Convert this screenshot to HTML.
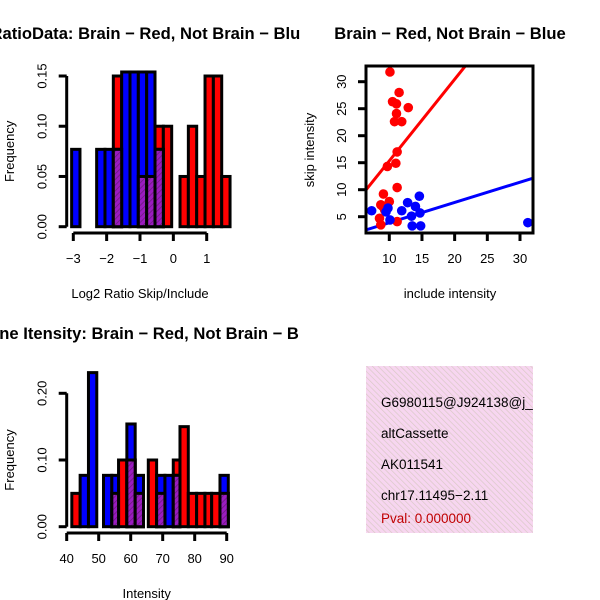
<!DOCTYPE html>
<html><head><meta charset="utf-8"><style>
body{margin:0;background:#fff}
svg{display:block;font-family:"Liberation Sans",sans-serif}
</style></head><body>
<svg id="fig" width="600" height="600" viewBox="0 0 600 600" xmlns="http://www.w3.org/2000/svg">
<defs>
<pattern id="hatch" width="4" height="4" patternUnits="userSpaceOnUse" patternTransform="rotate(45)">
<rect width="4" height="4" fill="#9a1cc0"/><line x1="0" y1="0" x2="0" y2="4" stroke="#6a1a7a" stroke-width="1.5"/></pattern>
<pattern id="pinkhatch" width="4" height="4" patternUnits="userSpaceOnUse" patternTransform="rotate(-45)">
<rect width="4" height="4" fill="#f7d6f0"/><line x1="0" y1="0" x2="0" y2="4" stroke="#d8c8c4" stroke-width="1.3"/></pattern>
<clipPath id="c1"><rect x="0" y="0" width="300" height="300"/></clipPath>
<clipPath id="c3"><rect x="0" y="300" width="300" height="300"/></clipPath>
<clipPath id="c2"><rect x="366" y="66" width="167" height="167"/></clipPath>
<clipPath id="c4"><rect x="366" y="366" width="167" height="167"/></clipPath>
</defs>
<g id="p1"></g>
<g id="p2"></g>
<g id="p3"></g>
<g clip-path="url(#c4)">
<rect x="366" y="366" width="167" height="167" fill="url(#pinkhatch)"/>
<text x="381" y="407" font-size="13.5">G6980115@J924138@j_</text>
<text x="381" y="438" font-size="13.5">altCassette</text>
<text x="381" y="469" font-size="13.5">AK011541</text>
<text x="381" y="500" font-size="13.5">chr17.11495−2.11</text>
<text x="381" y="523" font-size="13.5" fill="#c00000">Pval: 0.000000</text>
</g>
</svg>
<script>
// ---- Panel 1 data: log2 ratio histogram ----
const ratioBreaks = [-3.05,-2.8,-2.55,-2.3,-2.05,-1.8,-1.55,-1.3,-1.05,-0.8,-0.55,-0.3,-0.05,0.2,0.45,0.7,0.95,1.2,1.45,1.7];
const ratioRed =  [0,0,0,0,0,0.15,0,0,0.05,0.05,0.10,0.10,0,0.05,0.10,0.05,0.15,0.15,0.05];
const ratioBlue = [0.077,0,0,0.077,0.077,0.077,0.154,0.154,0.154,0.154,0.077,0,0,0,0,0,0,0,0];
const ratioXTicks = [-3,-2,-1,0,1];
const ratioYTicks = [0,0.05,0.10,0.15];
// ---- Panel 2 data: scatter ----
const redInclude = [10.1,10.5,11.1,11.5,12.9,11.1,10.8,11.9,11.2,11.0,9.7,11.2,9.1,8.7,10.0,8.5,8.7,11.2,9.3,9.0];
const redSkip    = [31.8,26.3,25.9,28.0,25.2,24.1,22.6,22.6,17.0,14.9,14.3,10.4,9.2,7.2,7.8,4.7,3.5,4.1,6.2,6.9];
const blueInclude = [7.3,9.5,9.8,10.1,11.9,12.8,14.0,14.6,14.7,13.4,13.5,14.8,31.2];
const blueSkip    = [6.1,5.9,6.6,4.4,6.1,7.6,6.9,8.8,5.7,5.1,3.3,3.3,3.9];
const redFit = [0.24,1.51];
const blueFit = [0.14,0.375];
const scatXTicks = [10,15,20,25,30];
const scatYTicks = [5,10,15,20,25,30];
// ---- Panel 3 data: intensity histogram ----
const intBreaks = [41.6,44.2,46.8,49.4,51.5,54.1,56.2,58.8,61.4,64.0,65.5,68.1,70.7,73.3,75.4,78.0,80.6,83.2,85.3,87.9,90.5];
const intRed =  [0.05,0,0,0,0,0.05,0.10,0.10,0.05,0,0.10,0.05,0,0.10,0.15,0.05,0.05,0.05,0.05,0.05];
const intBlue = [0,0.077,0.231,0,0.077,0.077,0,0.154,0.077,0,0,0.077,0.077,0.077,0,0,0,0,0,0.077];
const intXTicks = [40,50,60,70,80,90];
const intYTicks = [0,0.10,0.20];

const NS="http://www.w3.org/2000/svg";
function mk(parent,tag,attrs,txt){const e=document.createElementNS(NS,tag);for(const k in attrs)e.setAttribute(k,attrs[k]);if(txt!==undefined)e.textContent=txt;parent.appendChild(e);return e;}
function lin(d0,d1,r0,r1){return v=>r0+(v-d0)*(r1-r0)/(d1-d0);}
function fmt2(v){return v.toFixed(2);}

function histogram(g,breaks,red,blue,sx,sy,clip){
  const gg=mk(g,'g',{'clip-path':clip});
  const y0=sy(0);
  function bars(vals,fill,name){
    vals.forEach((v,i)=>{ if(v<=0) return;
      const x1=sx(breaks[i]),x2=sx(breaks[i+1]);
      const r=mk(gg,'rect',{x:x1,y:sy(v),width:x2-x1,height:y0-sy(v),fill:fill,stroke:'#000','stroke-width':3});
      
      
    });
  }
  bars(red,'#ff0000','bar-red');
  bars(blue,'#0000ff','bar-blue');
  bars(red.map((v,i)=>Math.min(v,blue[i])),'url(#hatch)','bar-overlap');
}
function yAxis(g,ticks,sy,x,fmt,title,tx){
  const ax=mk(g,'g',{});
  
  
  mk(ax,'line',{x1:x,x2:x,y1:sy(ticks[0]),y2:sy(ticks[ticks.length-1]),stroke:'#000','stroke-width':3});
  ticks.forEach(t=>{const y=sy(t);
    mk(ax,'line',{x1:x-8,x2:x,y1:y,y2:y,stroke:'#000','stroke-width':3});
    const l=mk(ax,'text',{x:x-20,y:y,'font-size':13,'text-anchor':'middle',transform:`rotate(-90 ${x-20} ${y})`},fmt(t));
    
    
  });
  const mid=(sy(ticks[0])+sy(ticks[ticks.length-1]))/2;
  const t=mk(g,'text',{x:tx,y:mid,'font-size':13,'text-anchor':'middle',transform:`rotate(-90 ${tx} ${mid})`},title);
  
  
}
function xAxis(g,ticks,sx,y,fmt,title,ty){
  const ax=mk(g,'g',{});
  
  
  mk(ax,'line',{x1:sx(ticks[0]),x2:sx(ticks[ticks.length-1]),y1:y,y2:y,stroke:'#000','stroke-width':3});
  ticks.forEach(t=>{const x=sx(t);
    mk(ax,'line',{x1:x,x2:x,y1:y,y2:y+8,stroke:'#000','stroke-width':3});
    const l=mk(ax,'text',{x:x,y:y+30,'font-size':13,'text-anchor':'middle'},fmt(t));
    
    
  });
  const mid=(sx(ticks[0])+sx(ticks[ticks.length-1]))/2;
  const t=mk(g,'text',{x:mid,y:ty,'font-size':13,'text-anchor':'middle'},title);
  
  
}
function title(g,txt,x,y,clip){
  const t=mk(g,'text',{x:x,y:y,'font-size':16.6,'font-weight':'bold','text-anchor':'middle','clip-path':clip},txt);
  
  
}
const minus=v=>String(v).replace('-','−');

// Panel 1
{
  const g=document.getElementById('p1');
  const sx=lin(-3,1,73.3,206.7), sy=lin(0,0.15,226.7,76);
  histogram(g,ratioBreaks,ratioRed,ratioBlue,sx,sy,'url(#c1)');
  yAxis(g,ratioYTicks,sy,66.7,fmt2,'Frequency',14);
  xAxis(g,ratioXTicks,sx,233,minus,'Log2 Ratio Skip/Include',298);
  title(g,'RatioData: Brain − Red, Not Brain − Blue',150,39,'url(#c1)');
}
// Panel 2
{
  const g=document.getElementById('p2');
  const sx=lin(10,30,389.3,520), sy=lin(5,30,216.7,81.7);
  const pts=mk(g,'g',{'clip-path':'url(#c2)'});
  const X0=6.46, X1=32.1;
  [[redFit,'#ff0000','fit-line-red'],[blueFit,'#0000ff','fit-line-blue']].forEach(([f,c,n])=>{
    const l=mk(pts,'line',{x1:sx(X0),y1:sy(f[0]+f[1]*X0),x2:sx(X1),y2:sy(f[0]+f[1]*X1),stroke:c,'stroke-width':3});
    
    
  });
  redInclude.forEach((v,i)=>{const c=mk(pts,'circle',{cx:sx(v),cy:sy(redSkip[i]),r:4.8,fill:'#ff0000'});
    
    });
  blueInclude.forEach((v,i)=>{const c=mk(pts,'circle',{cx:sx(v),cy:sy(blueSkip[i]),r:4.8,fill:'#0000ff'});
    
    });
  const box=mk(g,'rect',{x:366,y:66,width:167,height:167,fill:'none',stroke:'#000','stroke-width':3});
  
  
  scatXTicks.forEach(t=>{const x=sx(t);mk(g,'line',{x1:x,x2:x,y1:233,y2:241,stroke:'#000','stroke-width':3});
    const l=mk(g,'text',{x:x,y:263,'font-size':13,'text-anchor':'middle'},t);
    
    });
  scatYTicks.forEach(t=>{const y=sy(t);mk(g,'line',{x1:358,x2:366,y1:y,y2:y,stroke:'#000','stroke-width':3});
    const l=mk(g,'text',{x:346,y:y,'font-size':13,'text-anchor':'middle',transform:`rotate(-90 346 ${y})`},t);
    
    });
  const xt=mk(g,'text',{x:450,y:298,'font-size':13,'text-anchor':'middle'},'include intensity');
  
  
  const yt=mk(g,'text',{x:314,y:150,'font-size':13,'text-anchor':'middle',transform:'rotate(-90 314 150)'},'skip intensity');
  
  
  title(g,'Brain − Red, Not Brain − Blue',450,39,'');
}
// Panel 3
{
  const g=document.getElementById('p3');
  const sx=lin(40,90,66.7,226.7), sy=lin(0,0.20,526.7,393.3);
  histogram(g,intBreaks,intRed,intBlue,sx,sy,'url(#c3)');
  yAxis(g,intYTicks,sy,66.7,fmt2,'Frequency',14);
  xAxis(g,intXTicks,sx,533,v=>v,'Intensity',598);
  title(g,'Gene Itensity: Brain − Red, Not Brain − Blue',150,339,'url(#c3)');
}
</script>
</body></html>
